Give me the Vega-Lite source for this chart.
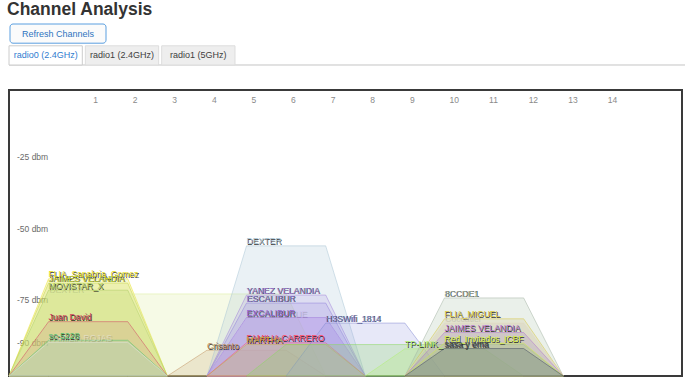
{
  "$schema": "https://vega.github.io/schema/vega-lite/v6.json",
  "padding": {"left": 7, "top": 1, "right": 0, "bottom": 0},
  "autosize": {"type": "pad"},
  "background": "white",
  "title": {"text": "Channel Analysis", "anchor": "start", "fontSize": 17.5, "font": "Liberation Sans", "fontWeight": "bold", "color": "#333333", "offset": 5, "baseline": "top"},
  "spacing": 23,
  "datasets": {
    "hdr": [
      {"r": "btn", "t": "Refresh Channels", "a": 0},
      {"r": "tab", "t": "radio0 (2.4GHz)", "a": 1},
      {"r": "tab", "t": "radio1 (2.4GHz)", "a": 0},
      {"r": "tab", "t": "radio1 (5GHz)", "a": 0}
    ],
    "chans": [{"c": 1},{"c": 2},{"c": 3},{"c": 4},{"c": 5},{"c": 6},{"c": 7},{"c": 8},{"c": 9},{"c": 10},{"c": 11},{"c": 12},{"c": 13},{"c": 14}],
    "dbm": [{"d": -25, "t": "-25 dbm"},{"d": -50, "t": "-50 dbm"},{"d": -75, "t": "-75 dbm"},{"d": -90, "t": "-90 dbm"}],
    "pts": [
      {"k":"a","c":-1,"s":-100},{"k":"a","c":0,"s":-66},{"k":"a","c":2,"s":-66},{"k":"a","c":3,"s":-100},
      {"k":"b","c":-1,"s":-100},{"k":"b","c":0,"s":-67.5},{"k":"b","c":2,"s":-67.5},{"k":"b","c":3,"s":-100},
      {"k":"c","c":-1,"s":-100},{"k":"c","c":0,"s":-70},{"k":"c","c":2,"s":-70},{"k":"c","c":3,"s":-100},
      {"k":"d","c":-1,"s":-100},{"k":"d","c":0,"s":-71.3},{"k":"d","c":6,"s":-71.3},{"k":"d","c":7,"s":-100},
      {"k":"e","c":-1,"s":-100},{"k":"e","c":0,"s":-81},{"k":"e","c":2,"s":-81},{"k":"e","c":3,"s":-100},
      {"k":"f","c":-1,"s":-100},{"k":"f","c":0,"s":-87.5},{"k":"f","c":2,"s":-87.5},{"k":"f","c":3,"s":-100},
      {"k":"g","c":-1,"s":-100},{"k":"g","c":0,"s":-88.2},{"k":"g","c":2,"s":-88.2},{"k":"g","c":3,"s":-100},
      {"k":"h","c":3,"s":-100},{"k":"h","c":4,"s":-91},{"k":"h","c":6,"s":-91},{"k":"h","c":7,"s":-100},
      {"k":"i","c":4,"s":-100},{"k":"i","c":5,"s":-54.5},{"k":"i","c":7,"s":-54.5},{"k":"i","c":8,"s":-100},
      {"k":"j","c":4,"s":-100},{"k":"j","c":5,"s":-71.7},{"k":"j","c":7,"s":-71.7},{"k":"j","c":8,"s":-100},
      {"k":"k","c":4,"s":-100},{"k":"k","c":5,"s":-74.5},{"k":"k","c":7,"s":-74.5},{"k":"k","c":8,"s":-100},
      {"k":"l","c":4,"s":-100},{"k":"l","c":5,"s":-79.6},{"k":"l","c":7,"s":-79.6},{"k":"l","c":8,"s":-100},
      {"k":"m","c":4,"s":-100},{"k":"m","c":5,"s":-79.8},{"k":"m","c":7,"s":-79.8},{"k":"m","c":8,"s":-100},
      {"k":"n","c":4,"s":-100},{"k":"n","c":5,"s":-88.4},{"k":"n","c":7,"s":-88.4},{"k":"n","c":8,"s":-100},
      {"k":"o","c":4,"s":-100},{"k":"o","c":5,"s":-89},{"k":"o","c":7,"s":-89},{"k":"o","c":8,"s":-100},
      {"k":"p","c":6,"s":-100},{"k":"p","c":7,"s":-81.5},{"k":"p","c":9,"s":-81.5},{"k":"p","c":10,"s":-100},
      {"k":"q","c":5,"s":-100},{"k":"q","c":6,"s":-89},{"k":"q","c":12,"s":-89},{"k":"q","c":13,"s":-100},
      {"k":"r","c":8,"s":-100},{"k":"r","c":9,"s":-90.5},{"k":"r","c":11,"s":-90.5},{"k":"r","c":12,"s":-100},
      {"k":"s","c":9,"s":-100},{"k":"s","c":10,"s":-72.7},{"k":"s","c":12,"s":-72.7},{"k":"s","c":13,"s":-100},
      {"k":"t","c":9,"s":-100},{"k":"t","c":10,"s":-80},{"k":"t","c":12,"s":-80},{"k":"t","c":13,"s":-100},
      {"k":"u","c":9,"s":-100},{"k":"u","c":10,"s":-81.5},{"k":"u","c":12,"s":-81.5},{"k":"u","c":13,"s":-100},
      {"k":"v","c":9,"s":-100},{"k":"v","c":10,"s":-84.8},{"k":"v","c":12,"s":-84.8},{"k":"v","c":13,"s":-100},
      {"k":"w","c":9,"s":-100},{"k":"w","c":10,"s":-88.5},{"k":"w","c":12,"s":-88.5},{"k":"w","c":13,"s":-100},
      {"k":"x","c":9,"s":-100},{"k":"x","c":10,"s":-90.4},{"k":"x","c":12,"s":-90.4},{"k":"x","c":13,"s":-100}
    ],
    "lab": [
      {"k":"d","t":"DEXTER","c":0,"s":-71.3},
      {"k":"g","t":"FAMILIA ROJAS","c":0,"s":-88.2},
      {"k":"m","t":"EXCALIBURUE","c":5,"s":-79.8},
      {"k":"u","t":"Coccatiel","c":10,"s":-81.5},
      {"k":"a","t":"FLIA_Sanabria_Gomez","c":0,"s":-66},
      {"k":"b","t":"JAIMES VELANDIA","c":0,"s":-67.5},
      {"k":"c","t":"MOVISTAR_X","c":0,"s":-70},
      {"k":"e","t":"Juan David","c":0,"s":-81},
      {"k":"f","t":"sc-5228","c":0,"s":-87.5},
      {"k":"h","t":"Crisanto","c":4,"s":-91},
      {"k":"i","t":"DEXTER","c":5,"s":-54.5},
      {"k":"j","t":"YANEZ VELANDIA","c":5,"s":-71.7},
      {"k":"k","t":"ESCALIBUR","c":5,"s":-74.5},
      {"k":"l","t":"EXCALIBUR","c":5,"s":-79.6},
      {"k":"n","t":"FAMILIA CARRERO","c":5,"s":-88.4},
      {"k":"o","t":"MARTHA","c":5,"s":-89},
      {"k":"p","t":"H3SWifi_1814","c":7,"s":-81.5},
      {"k":"r","t":"TP-LINK_","c":9,"s":-90.5},
      {"k":"s","t":"8CCDE1","c":10,"s":-72.7},
      {"k":"t","t":"FLIA_MIGUEL","c":10,"s":-80},
      {"k":"v","t":"JAIMES VELANDIA","c":10,"s":-84.8},
      {"k":"w","t":"Red_Invitados_ICBF","c":10,"s":-88.5},
      {"k":"x","t":"sasa y ema","c":10,"s":-90.4}
    ]
  },
  "vconcat": [
    {
      "width": 676,
      "height": 41,
      "view": {"stroke": null},
      "data": {"name": "hdr"},
      "encoding": {"y": {"field": "r", "type": "nominal", "axis": null, "scale": {"domain": ["btn", "tab"], "paddingInner": 0.12, "paddingOuter": 0}}},
      "layer": [
        {
          "transform": [{"filter": "datum.r == 'tab'"}],
          "mark": {"type": "rule", "color": "#dddddd", "strokeWidth": 1},
          "encoding": {"y": {"field": "r", "type": "nominal", "bandPosition": 1}}
        },
        {
          "transform": [{"filter": "datum.r == 'btn'"}],
          "encoding": {"x": {"field": "t", "type": "nominal", "axis": null, "scale": {"range": [1, 97], "paddingInner": 0, "paddingOuter": 0}}},
          "layer": [
            {"mark": {"type": "rect", "fill": "#fbfbfb", "stroke": "#5a9fe0", "strokeWidth": 1, "cornerRadius": 3}},
            {"mark": {"type": "text", "font": "Liberation Sans", "fontSize": 9, "fill": "#2f74c0", "align": "center", "baseline": "middle"}, "encoding": {"text": {"field": "t"}}}
          ]
        },
        {
          "transform": [{"filter": "datum.r == 'tab'"}],
          "encoding": {"x": {"field": "t", "type": "nominal", "axis": null, "sort": null, "scale": {"range": [0, 226], "paddingInner": 0.04, "paddingOuter": 0}}},
          "layer": [
            {"mark": {"type": "rect", "strokeWidth": 1}, "encoding": {
              "fill": {"condition": {"test": "datum.a == 1", "value": "#ffffff"}, "value": "#eeeeee"},
              "stroke": {"condition": {"test": "datum.a == 1", "value": "#cccccc"}, "value": "#dddddd"}}},
            {"mark": {"type": "text", "font": "Liberation Sans", "fontSize": 9, "align": "center", "baseline": "middle"}, "encoding": {
              "text": {"field": "t"},
              "fill": {"condition": {"test": "datum.a == 1", "value": "#2f7cd0"}, "value": "#404040"}}}
          ]
        }
      ],
      "resolve": {"scale": {"x": "independent"}}
    },
    {
      "width": 673,
      "height": 286,
      "view": {"stroke": "#3a3a3a", "strokeWidth": 2},
      "layer": [
        {
          "data": {"name": "dbm"},
          "mark": {"type": "text", "font": "Liberation Sans", "fontSize": 8.5, "align": "left", "baseline": "alphabetic", "dx": 8, "dy": -1.5, "fill": "#6a6a6a"},
          "encoding": {
            "x": {"datum": -1, "type": "quantitative", "scale": {"domain": [-1, 16], "nice": false, "zero": false}, "axis": null},
            "y": {"field": "d", "type": "quantitative", "scale": {"domain": [-100, 0], "nice": false, "zero": false}, "axis": null},
            "text": {"field": "t"}
          }
        },
        {
          "data": {"name": "pts"},
          "mark": {"type": "area", "fillOpacity": 0.24, "strokeWidth": 0.5, "interpolate": "linear"},
          "encoding": {
            "x": {"field": "c", "type": "quantitative", "scale": {"domain": [-1, 16], "nice": false, "zero": false},
                  "axis": {"values": [0,1,2,3,4,5,6,7,8,9,10,11,12,13,14,15], "grid": true, "gridColor": "#e4e4e4", "labels": false, "ticks": false, "domain": false, "title": null}},
            "y": {"field": "s", "type": "quantitative", "scale": {"domain": [-100, 0], "nice": false, "zero": false},
                  "axis": {"values": [-25, -50, -75, -90], "grid": true, "gridColor": "#e4e4e4", "labels": false, "ticks": false, "domain": false, "title": null}},
            "y2": {"datum": -100},
            "fill": {"field": "k", "type": "nominal", "legend": null, "scale": {
              "domain": ["a","b","c","d","e","f","g","h","i","j","k","l","m","n","o","p","q","r","s","t","u","v","w","x"],
              "range": ["#e6e640","#c8d448","#b0d060","#d8ec98","#d09080","#70c890","#d8d8d8","#c8a878","#a8c4d4","#b4a0e6","#a494e4","#a070e0","#c8b8f0","#e8a0b0","#b8c060","#9aa0e0","#8cd860","#b0f070","#a8c0a8","#c8c080","#d0c8b0","#a080c0","#b0d070","#486070"]}},
            "stroke": {"field": "k", "type": "nominal", "legend": null, "scale": {
              "domain": ["a","b","c","d","e","f","g","h","i","j","k","l","m","n","o","p","q","r","s","t","u","v","w","x"],
              "range": ["#e8e020","#c0d040","#a8c860","#d8ec98","#d04060","#50c070","#e8e8e8","#c09060","#a8c4d4","#a080d8","#9080d8","#9060d0","#c8b8f0","#ff4a68","#c0b040","#8088d0","#8cd860","#b0f070","#a0b0a0","#d8c840","#e0d8c0","#b070d0","#d0f040","#404860"]}}
          }
        },
        {
          "data": {"name": "lab"},
          "mark": {"type": "text", "font": "Liberation Sans", "fontSize": 8.6, "align": "left", "baseline": "alphabetic", "dx": 0.8, "dy": -0.6, "fill": "#000000"},
          "encoding": {
            "x": {"field": "c", "type": "quantitative", "scale": {"domain": [-1, 16], "nice": false, "zero": false}, "axis": null},
            "y": {"field": "s", "type": "quantitative", "scale": {"domain": [-100, 0], "nice": false, "zero": false}, "axis": null},
            "text": {"field": "t"},
            "opacity": {"condition": {"test": "indexof(['d','g','m','u'], datum.k) >= 0", "value": 0.15}, "value": 0.8}
          }
        },
        {
          "data": {"name": "lab"},
          "mark": {"type": "text", "font": "Liberation Sans", "fontSize": 8.6, "align": "left", "baseline": "alphabetic", "dy": -1.4},
          "encoding": {
            "x": {"field": "c", "type": "quantitative", "scale": {"domain": [-1, 16], "nice": false, "zero": false}, "axis": null},
            "y": {"field": "s", "type": "quantitative", "scale": {"domain": [-100, 0], "nice": false, "zero": false}, "axis": null},
            "text": {"field": "t"},
            "color": {"field": "k", "type": "nominal", "legend": null, "scale": {
              "domain": ["a","b","c","d","e","f","g","h","i","j","k","l","m","n","o","p","q","r","s","t","u","v","w","x"],
              "range": ["#e8e020","#c0d040","#a8c860","#d8ec98","#d04060","#50c070","#e8e8e8","#c09060","#a8c4d4","#a080d8","#9080d8","#9060d0","#c8b8f0","#ff4a68","#c0b040","#8088d0","#8cd860","#b0f070","#a0b0a0","#d8c840","#e0d8c0","#b070d0","#d0f040","#404860"]}},
            "opacity": {"condition": {"test": "indexof(['d','g','m','u'], datum.k) >= 0", "value": 0.5}, "value": 1}
          }
        },
        {
          "data": {"name": "chans"},
          "mark": {"type": "text", "font": "Liberation Sans", "fontSize": 8.5, "align": "left", "baseline": "top", "dx": 5, "dy": 6, "fill": "#8a8a8a"},
          "encoding": {
            "x": {"field": "c", "type": "quantitative", "scale": {"domain": [-1, 16], "nice": false, "zero": false}, "axis": null},
            "y": {"datum": 0, "type": "quantitative", "scale": {"domain": [-100, 0], "nice": false, "zero": false}, "axis": null},
            "text": {"field": "c"}
          }
        }
      ]
    }
  ],
  "config": {"view": {"stroke": null}}
}
